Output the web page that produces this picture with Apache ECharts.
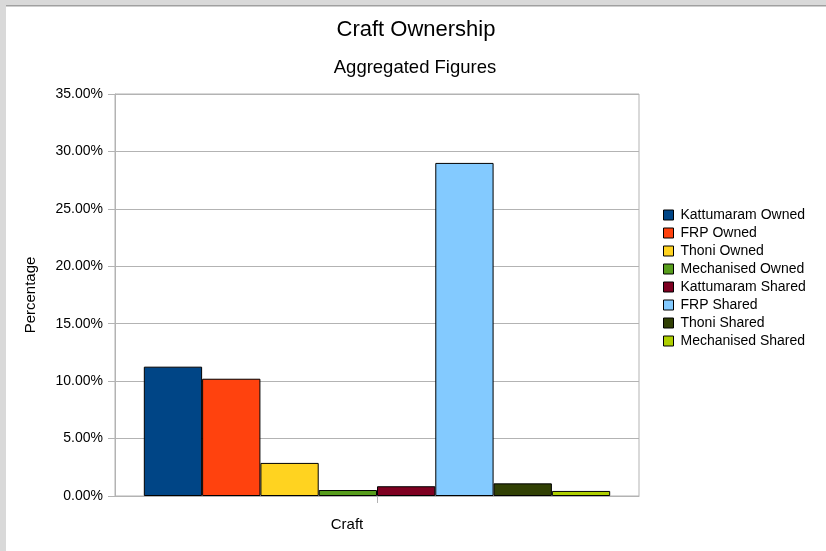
<!DOCTYPE html>
<html>
<head>
<meta charset="utf-8">
<script src="https://cdn.jsdelivr.net/npm/echarts@6/dist/echarts.min.js"></script>
<style>
html,body{margin:0;padding:0;background:#fff;}
#c{width:826px;height:551px;}
</style>
</head>
<body>
<div id="c"></div>
<script>
const categories = ['Craft'];
const seriesNames = ['Kattumaram Owned','FRP Owned','Thoni Owned','Mechanised Owned','Kattumaram Shared','FRP Shared','Thoni Shared','Mechanised Shared'];
const seriesValues = [11.26, 10.21, 2.88, 0.52, 0.85, 29.0, 1.1, 0.44];
const seriesColors = ['#004586','#ff420e','#ffd320','#579d1c','#7e0021','#83caff','#314004','#aecf00'];
const yTicks = {min: 0, max: 35, interval: 5};

const FONT = '"Liberation Sans", Arial, sans-serif';
const chart = echarts.init(document.getElementById('c'), null, {renderer: 'canvas'});
chart.setOption({
  animation: false,
  backgroundColor: '#fff',
  textStyle: {fontFamily: FONT},
  title: [
    {text: 'Craft Ownership', left: 411, top: 14, textAlign: 'center',
     textStyle: {fontSize: 22, fontWeight: 'normal', color: '#000', fontFamily: FONT}},
    {text: 'Aggregated Figures', left: 410, top: 53, textAlign: 'center',
     textStyle: {fontSize: 18.5, fontWeight: 'normal', color: '#000', fontFamily: FONT}}
  ],
  graphic: [
    {type: 'rect', shape: {x: 0, y: 0, width: 826, height: 5}, style: {fill: '#d9d9d9'}, z: 100},
    {type: 'rect', shape: {x: 0, y: 0, width: 6, height: 551}, style: {fill: '#d9d9d9'}, z: 100},
    {type: 'rect', shape: {x: 6, y: 5, width: 820, height: 1.5}, style: {fill: '#a0a0a0'}, z: 100}
  ],
  legend: {
    orient: 'vertical', left: 663, top: 208, padding: 0,
    itemWidth: 10, itemHeight: 10, itemGap: 4,
    icon: 'rect',
    textStyle: {fontSize: 14, color: '#000', fontFamily: FONT, padding: [0,0,0,2]},
    itemStyle: {borderColor: '#000', borderWidth: 1},
    data: seriesNames
  },
  grid: {left: 115, right: 187, top: 94, bottom: 55, show: true, borderColor: '#b3b3b3', borderWidth: 1, containLabel: false},
  xAxis: {
    type: 'category', data: categories,
    name: 'Craft', nameLocation: 'middle', nameGap: 21,
    nameTextStyle: {fontSize: 15, color: '#000', fontFamily: FONT, padding: [0, 60, 0, 0]},
    axisLine: {lineStyle: {color: '#b3b3b3'}},
    axisTick: {show: true, alignWithLabel: true, length: 7, lineStyle: {color: '#b3b3b3'}},
    axisLabel: {show: false}
  },
  yAxis: {
    type: 'value', min: yTicks.min, max: yTicks.max, interval: yTicks.interval,
    name: 'Percentage', nameLocation: 'middle', nameGap: 77, nameRotate: 90,
    nameTextStyle: {fontSize: 15, color: '#000', fontFamily: FONT},
    axisLine: {show: true, lineStyle: {color: '#b3b3b3'}},
    axisTick: {show: true, length: 7, lineStyle: {color: '#b3b3b3'}},
    axisLabel: {fontSize: 14, color: '#000', margin: 12, fontFamily: FONT,
      formatter: v => v.toFixed(2) + '%'},
    splitLine: {show: true, lineStyle: {color: '#b3b3b3'}}
  },
  series: seriesNames.map((n, i) => ({
    name: n, type: 'bar',
    data: [seriesValues[i]],
    barGap: '0%', barCategoryGap: '11%',
    itemStyle: {color: seriesColors[i], borderColor: '#000', borderWidth: 1}
  }))
});
</script>
</body>
</html>
